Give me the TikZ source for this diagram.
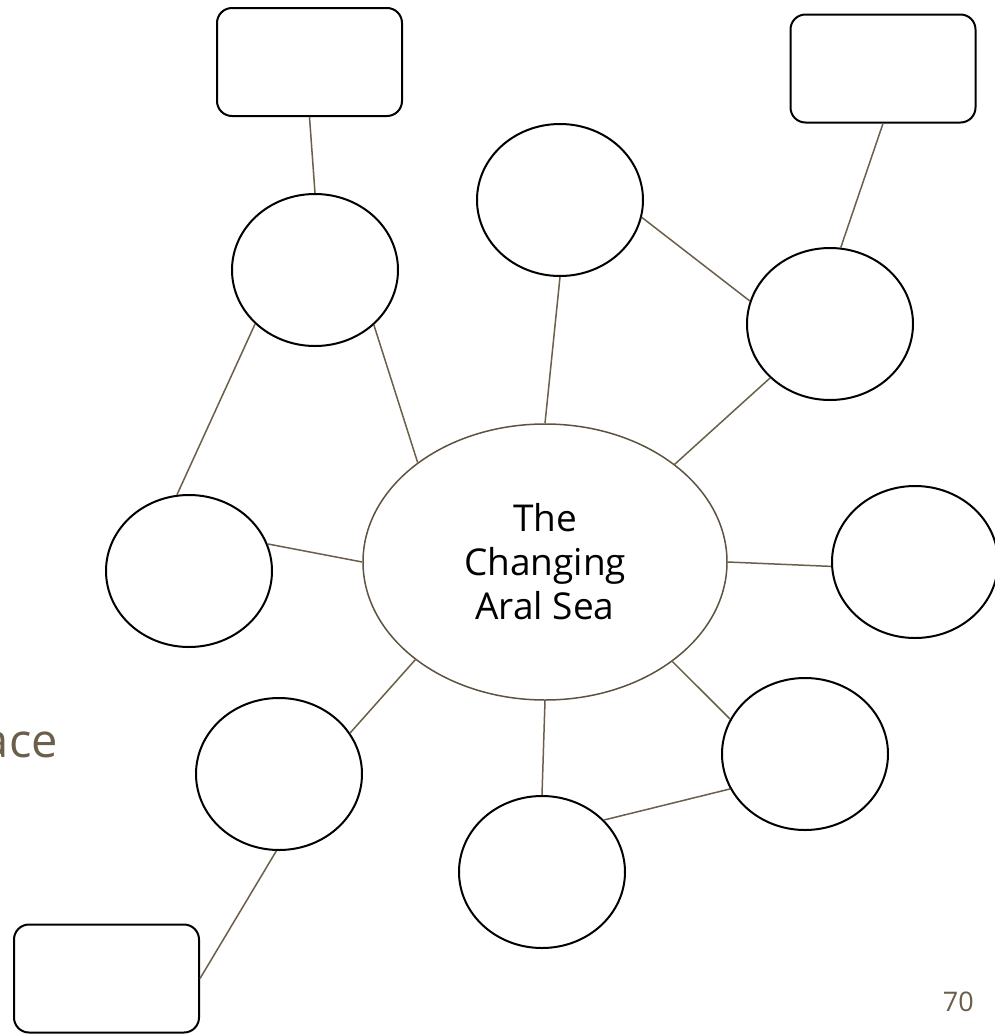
\documentclass[tikz,border=0pt]{standalone}
\usepackage{fontspec}
\setmainfont{Open Sans}
\usetikzlibrary{shapes.geometric}
\definecolor{brn}{HTML}{6B5E4A}
\definecolor{hubline}{HTML}{5E5340}
\begin{document}
\begin{tikzpicture}[x=1pt,y=-1pt,
  bubble/.style={ellipse,draw=black,line width=2pt,minimum width=166pt,minimum height=152pt,inner sep=0pt},
  hub/.style={ellipse,draw=hubline,line width=1.5pt,minimum width=364pt,minimum height=276pt,inner sep=0pt,align=center,font=\fontsize{37}{44}\selectfont},
  card/.style={draw=black,line width=2pt,rounded corners=15pt,minimum width=185pt,minimum height=108pt,inner sep=0pt},
  link/.style={draw=brn,line width=1.5pt},
  pagetext/.style={text=brn,inner sep=0pt,anchor=base east}]
\useasboundingbox (0,0) rectangle (995,1034);
\clip (0,0) rectangle (995,1034);
\fill[white] (0,0) rectangle (995,1034);

% rectangles
\node[card] (rTL) at (309.5,62) {};
\node[card] (rTR) at (883,68.5) {};
\node[card] (rBL) at (106.5,978.5) {};

% bubbles
\node[bubble] (c1) at (315,270) {};
\node[bubble] (c2) at (560,200) {};
\node[bubble] (c3) at (830,324) {};
\node[bubble] (c4) at (189,571) {};
\node[bubble] (c5) at (915,562) {};
\node[bubble] (c6) at (279,774) {};
\node[bubble] (c7) at (542,872) {};
\node[bubble] (c8) at (805,754) {};

% hub
\node[hub] (hub) at (545,562) {The\\Changing\\Aral Sea};

% connectors
\draw[link] (rTL.south) -- (c1.north);
\draw[link] (rTR.south) -- (c3.82);
\draw[link] (rBL.east) -- (c6.268);
\draw[link] (c1.222) -- (c4.99);
\draw[link] (c1.317.5) -- (hub.142.7);
\draw[link] (c2.south) -- (hub.north);
\draw[link] (c2.348) -- (c3.164);
\draw[link] (c3.222) -- (hub.37.5);
\draw[link] (c4.19.5) -- (hub.west);
\draw[link] (hub.east) -- (c5.183);
\draw[link] (hub.217.3) -- (c6.30);
\draw[link] (hub.south) -- (c7.north);
\draw[link] (hub.322.5) -- (c8.155);
\draw[link] (c7.40) -- (c8.205);

% page texts
\node[pagetext,font=\fontsize{47}{56}\selectfont] (space) at (58,757) {ace};
\node[pagetext,font=\fontsize{27}{32}\selectfont] (pnum) at (974,1011) {70};
\end{tikzpicture}
\end{document}
